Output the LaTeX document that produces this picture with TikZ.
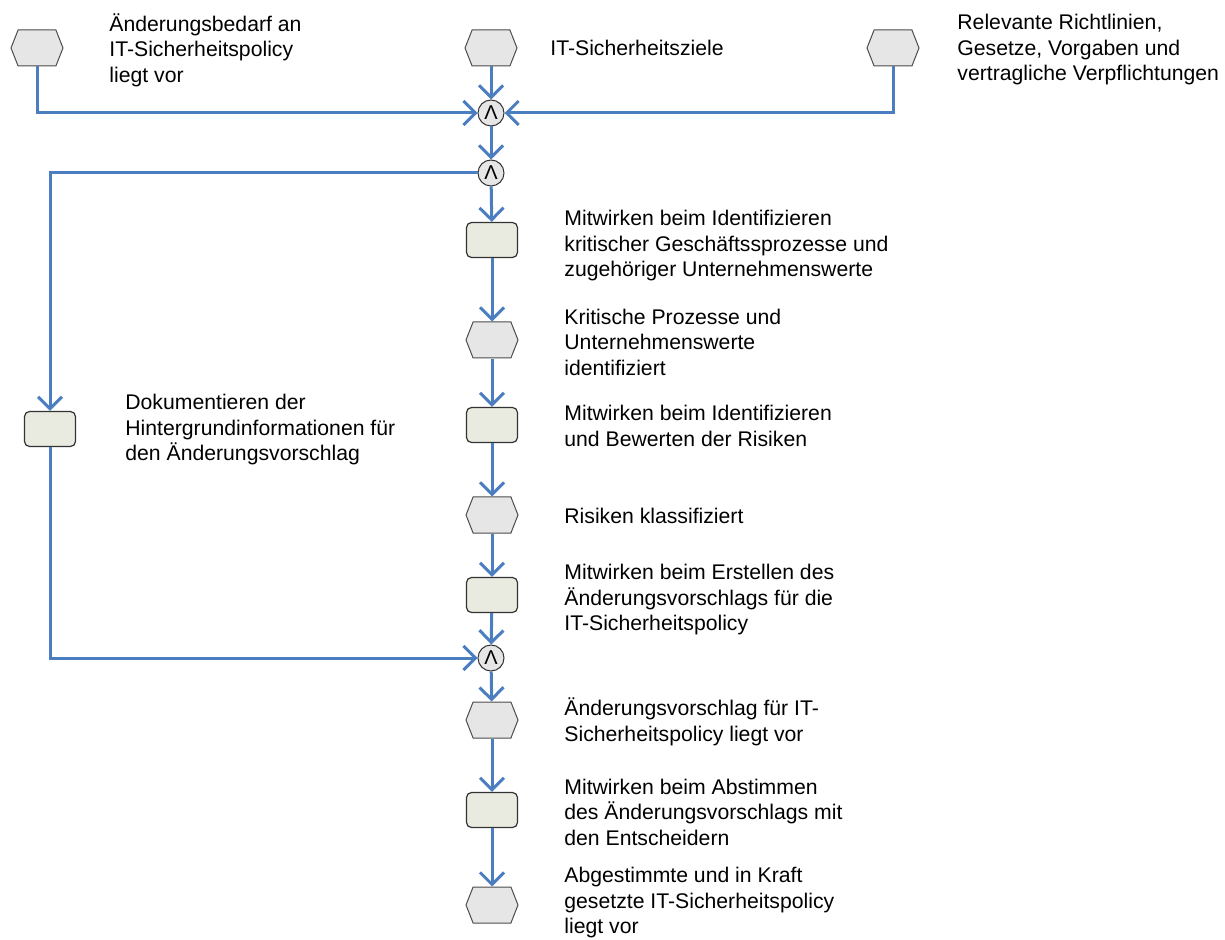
\documentclass[tikz,border=0pt]{standalone}
\usepackage{fontspec}
\setmainfont{Liberation Sans}
\usepackage{tikz}
\usepackage{xcolor}
\usetikzlibrary{arrows.meta,shapes.symbols,positioning}

\definecolor{flowblue}{RGB}{74,126,193}
\definecolor{evtgray}{RGB}{230,230,230}
\definecolor{fktgreen}{RGB}{233,235,224}

\tikzset{
  evt/.style={signal, signal to=west and east, signal pointer angle=137,
    draw=black!70, fill=evtgray, line width=0.5pt,
    minimum width=26pt, minimum height=18pt, inner sep=0pt},
  fkt/.style={rectangle, rounded corners=2.5pt, draw=black!80, fill=fktgreen,
    line width=0.6pt, minimum width=25.5pt, minimum height=17.5pt, inner sep=0pt},
  und/.style={circle, draw=black!80, fill=evtgray, line width=0.5pt,
    minimum size=13pt, inner sep=0pt, font=\fontsize{10}{10}\selectfont},
  txt/.style={anchor=west, align=left, inner sep=0pt,
    font=\fontsize{10.6}{12.75}\selectfont},
  flow/.style={draw=flowblue, line width=1.5pt,
    -{Straight Barb[length=6pt,width=12pt,line width=1.5pt]}}
}

\begin{document}
\begin{tikzpicture}[x=0.5pt, y=-0.5pt]
    \useasboundingbox (0,0) rectangle (1225,940);

    % Start events
    \node[evt] (ev1) at (37,48) {};
    \node[evt] (ev2) at (491,48) {};
    \node[evt] (ev3) at (893,48) {};
    \node[txt] (t1) at (109,50) {Änderungsbedarf an\\IT-Sicherheitspolicy\\liegt vor};
    \node[txt] (t2) at (550,48) {IT-Sicherheitsziele};
    \node[txt] (t3) at (957,50) {Relevante Richtlinien,\\Gesetze, Vorgaben und\\vertragliche Verpflichtungen};

    % Connectors
    \node[und] (and1) at (491,113) {Λ};
    \node[und] (and2) at (491,173) {Λ};
    \node[und] (and3) at (491,658) {Λ};

    % Main chain
    \node[fkt] (f1) at (492,240) {};
    \node[evt] (ev4) at (492,340) {};
    \node[fkt] (f2) at (492,425) {};
    \node[evt] (ev5) at (492,515) {};
    \node[fkt] (f3) at (492,595) {};
    \node[evt] (ev6) at (492,720) {};
    \node[fkt] (f4) at (492,810) {};
    \node[evt] (ev7) at (492,905) {};

    \node[txt] (t4) at (564,246) {Mitwirken beim Identifizieren\\kritischer Geschäftssprozesse und\\zugehöriger Unternehmenswerte};
    \node[txt] (t5) at (564,342) {Kritische Prozesse und\\Unternehmenswerte\\identifiziert};
    \node[txt] (t6) at (564,426) {Mitwirken beim Identifizieren\\und Bewerten der Risiken};
    \node[txt] (t7) at (564,516) {Risiken klassifiziert};
    \node[txt] (t8) at (564,600) {Mitwirken beim Erstellen des\\Änderungsvorschlags für die\\IT-Sicherheitspolicy};
    \node[txt] (t9) at (564,722) {Änderungsvorschlag für IT-\\Sicherheitspolicy liegt vor};
    \node[txt] (t10) at (564,812) {Mitwirken beim Abstimmen\\des Änderungsvorschlags mit\\den Entscheidern};
    \node[txt] (t11) at (564,903) {Abgestimmte und in Kraft\\gesetzte IT-Sicherheitspolicy\\liegt vor};

    % Side branch
    \node[fkt] (fl) at (50,429) {};
    \node[txt] (t12) at (125,430) {Dokumentieren der\\Hintergrundinformationen für\\den Änderungsvorschlag};

    % Flows
    \draw[flow] (ev1.south) |- (and1.west);
    \draw[flow] (ev3.south) |- (and1.east);
    \draw[flow] (ev2) -- (and1);
    \foreach \a/\b in {and1/and2, and2/f1, f1/ev4, ev4/f2, f2/ev5, ev5/f3, f3/and3,
                       and3/ev6, ev6/f4, f4/ev7}
      \draw[flow] (\a) -- (\b);
    \draw[flow] (and2.west) -| (fl.north);
    \draw[flow] (fl.south) |- (and3.west);
\end{tikzpicture}
\end{document}
